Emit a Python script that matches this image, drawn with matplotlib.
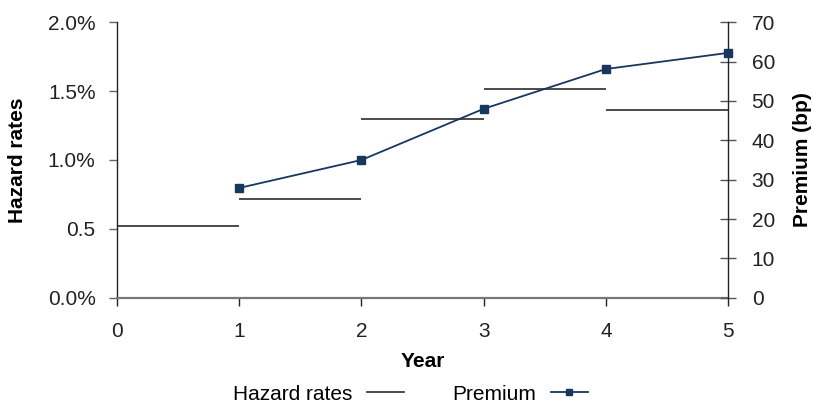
import matplotlib
matplotlib.use("Agg")
import matplotlib.pyplot as plt
from matplotlib.lines import Line2D

plt.rcParams['font.family'] = ['Liberation Sans', 'DejaVu Sans']

years = [0, 1, 2, 3, 4, 5]
hazard_rates = [0.52, 0.717, 1.295, 1.515, 1.363]   # % per year interval
premium_years = [1, 2, 3, 4, 5]
premium_bp = [27.9, 35.0, 48.0, 58.1, 62.2]
left_ticks = [0.0, 0.5, 1.0, 1.5, 2.0]
left_tick_labels = ["0.0%", "0.5", "1.0%", "1.5%", "2.0%"]
right_ticks = [0, 10, 20, 30, 40, 50, 60, 70]

fs = 15
fig = plt.figure(figsize=(8.13, 4.03), dpi=100)
ax = fig.add_axes([0.144, 0.261, 0.7515, 0.684])
ax2 = ax.twinx()

hz_color = '#2b2b2b'
pr_color = '#17375e'
for i, h in enumerate(hazard_rates):
    ax.hlines(h, years[i], years[i + 1], color=hz_color, lw=1.2)

ax2.plot(premium_years, premium_bp, color=pr_color, lw=1.3, marker='s',
         markersize=6, clip_on=False, zorder=5)

ax.set_xlim(0, 5)
ax.set_ylim(0, 2.0)
ax2.set_ylim(0, 70)
ax.set_xticks(years)
ax.set_yticks(left_ticks)
ax.set_yticklabels(left_tick_labels)
ax2.set_yticks(right_ticks)

for a in (ax, ax2):
    a.spines['top'].set_visible(False)
    for s in a.spines.values():
        s.set_color('#222222')
        s.set_linewidth(1.0)
ax.spines['bottom'].set_color('#777777')
ax.spines['bottom'].set_linewidth(1.6)
ax2.spines['bottom'].set_visible(False)
ax2.spines['left'].set_visible(False)
ax.spines['right'].set_visible(False)

ax.tick_params(axis='both', labelsize=fs, colors='#222222', length=6, width=1.0,
               direction='out')
ax.tick_params(axis='y', color='#666666', pad=9.5)
ax.tick_params(axis='x', pad=11.5)
ax2.tick_params(axis='y', labelsize=fs, colors='#222222', length=12, width=1.0,
                direction='inout', pad=11)
ax2.tick_params(axis='y', color='#555555')

ax.set_xlabel('Year', fontsize=fs, fontweight='bold', labelpad=7.5)
ax.set_ylabel('Hazard rates', fontsize=fs, fontweight='bold', labelpad=15)
ax2.set_ylabel('Premium (bp)', fontsize=fs, fontweight='bold', labelpad=13)

handles = [Line2D([], [], color=hz_color, lw=1.2),
           Line2D([], [], color=pr_color, lw=1.3, marker='s', markersize=5)]
fig.legend(handles, ['Hazard rates', 'Premium'], loc='center',
           bbox_to_anchor=(0.505, 0.022), ncol=2, frameon=False, fontsize=fs,
           markerfirst=False, handlelength=1.8, handletextpad=0.7,
           columnspacing=2.3)

fig.savefig('out.png', dpi=100)
